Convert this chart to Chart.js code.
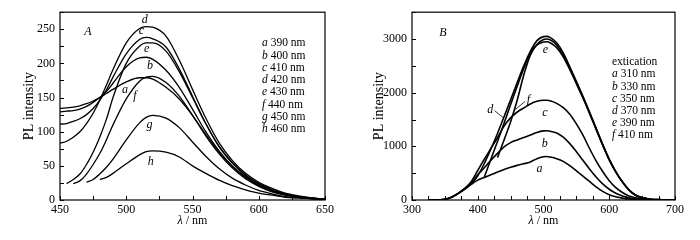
<!DOCTYPE html>
<html>
<head>
<meta charset="utf-8">
<script src="https://cdn.jsdelivr.net/npm/chart.js@4.4.0/dist/chart.umd.min.js"></script>
<style>
  html, body { margin: 0; padding: 0; background: #fff; }
  #wrap { display: flex; width: 700px; height: 240px; }
  .box { width: 350px; height: 240px; }
</style>
</head>
<body>
<div id="wrap">
  <div class="box"><canvas id="chartA" width="350" height="240"></canvas></div>
  <div class="box"><canvas id="chartB" width="350" height="240"></canvas></div>
</div>
<script>
// ---- Panel A: emission spectra, excitation 390-460 nm ----
const gridA = [450,455,460,465,470,475,480,485,490,500,510,515,520,530,540,550,560,570,580,590,600,610,620,630,640,650];
const lettersA = ['a','b','c','d','e','f','g','h'];
const excitA = [390,400,410,420,430,440,450,460];
const curveA_a = [134,135,136,138,141,145,150,156,162,173,179,179,177,165,148,124,96,70,49,33,21,13,8,4,2,1];
const curveA_b = [129,130,131,133,137,143,150,159,171,195,208,209,206,190,165,133,100,72,50,34,22,14,8,5,2,1];
const curveA_c = [111,112,115,119,125,134,146,161,180,214,235,238,236,224,192,152,112,78,54,36,24,15,9,5,3,1];
const curveA_d = [83,86,92,100,112,127,146,168,191,230,251,254,253,240,205,162,120,84,58,39,26,17,10,6,3,1];
const curveA_e = [null,24,30,38,52,70,92,118,150,200,225,230,230,218,188,150,112,79,55,37,24,15,9,5,3,1];
const curveA_f = [null,null,24,28,38,52,68,88,110,148,174,180,181,172,152,124,94,68,47,31,20,12,7,4,2,1];
const curveA_g = [null,null,null,null,26,30,38,48,60,88,113,121,124,120,106,85,64,46,32,22,14,9,5,3,2,1];
const curveA_h = [null,null,null,null,null,null,30,33,39,53,66,71,72,70,63,50,39,29,21,15,10,7,4,3,2,1];
const xTicksA = [450,500,550,600,650];
const yTicksA = [0,50,100,150,200,250];

// ---- Panel B: emission spectra, excitation 310-410 nm ----
const gridB = [325,340,350,360,370,380,390,400,410,420,430,440,450,460,470,480,490,500,505,510,520,530,540,550,560,570,580,590,600,610,620,630,640,650,660,680,700];
const lettersB = ['a','b','c','d','e','f'];
const excitB = [310,330,350,370,390,410];
const curveB_a = [0,5,12,50,120,200,290,370,420,470,520,570,610,645,675,710,770,805,810,800,770,720,640,545,445,345,245,160,100,62,35,18,10,5,3,1,0];
const curveB_b = [0,5,12,50,120,205,310,470,600,740,870,990,1070,1120,1165,1210,1260,1288,1290,1282,1250,1170,1050,900,740,580,430,300,200,125,75,40,22,10,5,1,0];
const curveB_c = [0,5,12,50,122,215,340,550,760,960,1160,1380,1530,1640,1715,1790,1840,1860,1860,1850,1800,1720,1600,1420,1210,960,730,530,360,230,140,75,40,18,8,2,0];
const curveB_d = [null,null,null,null,null,null,290,450,680,950,1240,1550,1870,2190,2500,2770,2970,3045,3050,3030,2930,2740,2480,2210,1930,1640,1340,1040,760,530,340,190,90,45,20,5,0];
const curveB_e = [null,null,null,null,null,null,null,null,430,760,1090,1430,1780,2120,2450,2740,2890,2945,2950,2930,2840,2670,2430,2170,1900,1615,1315,1020,745,520,335,185,88,44,20,5,0];
const curveB_f = [null,null,null,null,null,null,null,null,null,null,790,1120,1460,1860,2330,2700,2900,2990,3000,2985,2890,2710,2455,2190,1915,1628,1328,1030,750,525,338,188,89,44,20,5,0];
const xTicksB = [300,400,500,600,700];
const yTicksB = [0,1000,2000,3000];

const SERIF = '"Liberation Serif", "Times New Roman", serif';

function toPoints(grid, values) {
  return grid.map((x, i) => ({ x: x, y: values[i] })).filter(p => p.y !== null);
}

// frame, inward ticks, curve letters, legend text, x title
const annotPlugin = {
  id: 'annot',
  afterDatasetsDraw(chart, args, o) {
    const { ctx, chartArea: area, scales: { x, y } } = chart;
    ctx.save();
    ctx.strokeStyle = '#000';
    ctx.lineWidth = 1.2;
    ctx.strokeRect(area.left, area.top, area.right - area.left, area.bottom - area.top);

    ctx.lineWidth = 1;
    ctx.beginPath();
    for (let v = x.min; v <= x.max; v += o.xMinor) {
      const px = Math.round(x.getPixelForValue(v)) + 0.5;
      ctx.moveTo(px, area.bottom);
      ctx.lineTo(px, area.bottom - 4);
    }
    for (let v = y.min; v <= y.max; v += o.yMinor) {
      const py = Math.round(y.getPixelForValue(v)) + 0.5;
      ctx.moveTo(area.left, py);
      ctx.lineTo(area.left + 4, py);
    }
    ctx.stroke();

    ctx.fillStyle = '#000';
    ctx.textAlign = 'center';
    ctx.textBaseline = 'middle';
    ctx.font = 'italic 12px ' + SERIF;
    o.curveLabels.forEach(l => ctx.fillText(l.t, x.getPixelForValue(l.x), y.getPixelForValue(l.y)));

    ctx.lineWidth = 0.8;
    (o.leaders || []).forEach(l => {
      ctx.beginPath();
      ctx.moveTo(x.getPixelForValue(l[0]), y.getPixelForValue(l[1]));
      ctx.lineTo(x.getPixelForValue(l[2]), y.getPixelForValue(l[3]));
      ctx.stroke();
    });

    ctx.fillText(o.panel, area.left + o.panelAt[0], area.top + o.panelAt[1]);

    // legend block
    ctx.textAlign = 'left';
    const lx = area.left + o.legendAt[0];
    let ly = area.top + o.legendAt[1];
    if (o.legendTitle) {
      ctx.font = '11.5px ' + SERIF;
      ctx.fillText(o.legendTitle, lx, ly);
      ly += o.legendGap;
    }
    o.legendLetters.forEach((t, i) => {
      ctx.font = 'italic 11.5px ' + SERIF;
      ctx.fillText(t, lx, ly);
      const w = ctx.measureText(t).width;
      ctx.font = '11.5px ' + SERIF;
      ctx.fillText(' ' + o.legendValues[i] + ' nm', lx + w, ly);
      ly += o.legendGap;
    });

    // x axis title: italic lambda + " / nm"
    ctx.font = 'italic 12px ' + SERIF;
    const lam = '\u03bb';
    const w1 = ctx.measureText(lam).width;
    ctx.font = '12px ' + SERIF;
    const rest = ' / nm';
    const w2 = ctx.measureText(rest).width;
    const cx = (area.left + area.right) / 2;
    const start = cx - (w1 + w2) / 2;
    ctx.font = 'italic 12px ' + SERIF;
    ctx.fillText(lam, start, 221);
    ctx.font = '12px ' + SERIF;
    ctx.fillText(rest, start + w1, 221);
    ctx.restore();
  }
};

function makeChart(id, grid, curves, letters, p) {
  const datasets = curves.map((c, i) => ({
    label: letters[i],
    data: toPoints(grid, c),
    borderColor: '#000',
    borderWidth: p.lineWidth,
    pointRadius: 0,
    fill: false,
    cubicInterpolationMode: 'monotone'
  }));
  return new Chart(document.getElementById(id).getContext('2d'), {
    type: 'line',
    data: { datasets: datasets },
    plugins: [annotPlugin],
    options: {
      responsive: false,
      animation: false,
      layout: { padding: { left: 0, right: p.padRight, top: p.padTop, bottom: 0 } },
      plugins: {
        legend: { display: false },
        tooltip: { enabled: false },
        annot: p.annot
      },
      scales: {
        x: {
          type: 'linear',
          min: p.xMin, max: p.xMax,
          afterFit: s => { s.height = p.xAxisH; },
          afterBuildTicks: s => { s.ticks = p.xTicks.map(v => ({ value: v })); },
          grid: { display: false, drawTicks: false },
          border: { display: false },
          ticks: { color: '#000', padding: 3, font: { family: SERIF, size: 12 }, callback: v => String(v) }
        },
        y: {
          min: p.yMin, max: p.yMax,
          afterFit: s => { s.width = p.yAxisW; },
          afterBuildTicks: s => { s.ticks = p.yTicks.map(v => ({ value: v })); },
          grid: { display: false, drawTicks: false },
          border: { display: false },
          ticks: { color: '#000', padding: 5, font: { family: SERIF, size: 12 }, callback: v => String(v) },
          title: {
            display: true, text: 'PL intensity', color: '#000',
            font: { family: SERIF, size: 14 },
            padding: { top: 21, bottom: 0 }
          }
        }
      }
    }
  });
}

makeChart('chartA', gridA,
  [curveA_a, curveA_b, curveA_c, curveA_d, curveA_e, curveA_f, curveA_g, curveA_h], lettersA, {
  lineWidth: 1.3, padRight: 25, padTop: 8, xAxisH: 40, yAxisW: 60,
  xMin: 450, xMax: 650, yMin: 0, yMax: 275, xTicks: xTicksA, yTicks: yTicksA,
  annot: {
    xMinor: 25, yMinor: 25,
    panel: 'A', panelAt: [28, 20],
    legendAt: [202, 31], legendGap: 12.3, legendTitle: null,
    legendLetters: lettersA, legendValues: excitA,
    curveLabels: [
      { t: 'd', x: 514, y: 264 }, { t: 'c', x: 511.5, y: 247 }, { t: 'e', x: 515.5, y: 221 },
      { t: 'b', x: 518, y: 197 }, { t: 'a', x: 499, y: 162 }, { t: 'f', x: 506.5, y: 152 },
      { t: 'g', x: 517.5, y: 110 }, { t: 'h', x: 518.5, y: 56 }
    ]
  }
});

makeChart('chartB', gridB,
  [curveB_a, curveB_b, curveB_c, curveB_d, curveB_e, curveB_f], lettersB, {
  lineWidth: 1.6, padRight: 25, padTop: 8, xAxisH: 40, yAxisW: 62,
  xMin: 300, xMax: 700, yMin: 0, yMax: 3500, xTicks: xTicksB, yTicks: yTicksB,
  annot: {
    xMinor: 25, yMinor: 500,
    panel: 'B', panelAt: [31, 21],
    legendAt: [200, 50], legendGap: 12.2, legendTitle: 'extication',
    legendLetters: lettersB, legendValues: excitB,
    curveLabels: [
      { t: 'e', x: 503, y: 2800 }, { t: 'c', x: 502, y: 1623 }, { t: 'b', x: 502, y: 1042 },
      { t: 'a', x: 494, y: 583 }, { t: 'd', x: 419, y: 1686 }, { t: 'f', x: 477, y: 1860 }
    ],
    leaders: [[425.5, 1667, 439, 1531], [472, 1838, 457, 1685]]
  }
});
</script>
</body>
</html>
